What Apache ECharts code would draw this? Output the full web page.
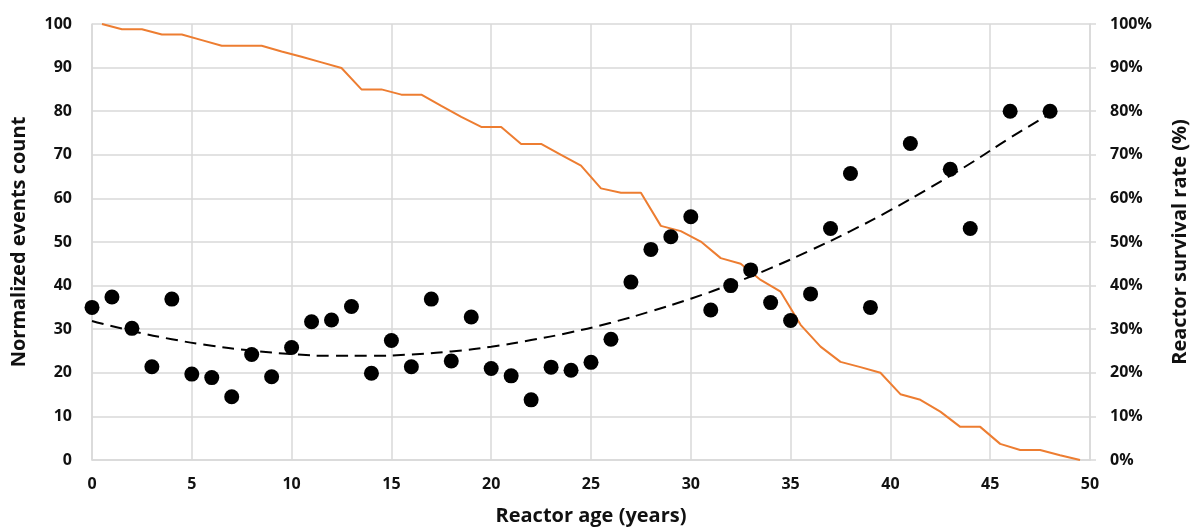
<!DOCTYPE html>
<html>
<head>
<meta charset="utf-8">
<script src="https://cdn.jsdelivr.net/npm/echarts@6/dist/echarts.min.js"></script>
<style>
  html, body { margin: 0; padding: 0; background: #fff; }
  #main { width: 1195px; height: 528px; }
</style>
</head>
<body>
<div id="main"></div>
<script>
// normalized events count per reactor age
var eventAges = [0, 1, 2, 3, 4, 5, 6, 7, 8, 9, 10, 11, 12, 13, 14, 15, 16, 17, 18, 19,
    20, 21, 22, 23, 24, 25, 26, 27, 28, 29, 30, 31, 32, 33, 34, 35, 36, 37, 38, 39,
    41, 43, 44, 46, 48];
var eventCounts = [35.0, 37.4, 30.2, 21.4, 36.9, 19.7, 18.9, 14.5, 24.2, 19.1, 25.8, 31.7, 32.1, 35.2, 19.9, 27.4, 21.4, 36.9, 22.7, 32.8,
    21.0, 19.3, 13.8, 21.3, 20.6, 22.4, 27.7, 40.8, 48.3, 51.2, 55.8, 34.4, 40.0, 43.6, 36.1, 32.0, 38.1, 53.1, 65.7, 35.0,
    72.6, 66.7, 53.1, 80.0, 80.0];

// dashed trend line, every 2 years
var trendAges = [0, 2, 4, 6, 8, 10, 12, 14, 16, 18, 20, 22, 24, 26, 28, 30, 32, 34, 36, 38, 40, 42, 44, 46, 48];
var trendValues = [31.9, 29.6, 27.7, 26.2, 25.1, 24.3, 23.9, 23.9, 24.2, 24.9, 26.0, 27.5, 29.3, 31.5, 34.1, 37.0, 40.3, 44.0, 48.1, 52.5, 57.3, 62.5, 68.0, 73.9, 79.4];

// reactor survival rate (%), one point at each half year
var survivalAges = [0.5, 1.5, 2.5, 3.5, 4.5, 5.5, 6.5, 7.5, 8.5, 9.5, 10.5, 11.5, 12.5, 13.5, 14.5, 15.5, 16.5, 17.5, 18.5, 19.5,
    20.5, 21.5, 22.5, 23.5, 24.5, 25.5, 26.5, 27.5, 28.5, 29.5, 30.5, 31.5, 32.5, 33.5, 34.5, 35.5, 36.5, 37.5, 38.5, 39.5,
    40.5, 41.5, 42.5, 43.5, 44.5, 45.5, 46.5, 47.5, 48.5, 49.5];
var survivalRate = [100, 98.8, 98.8, 97.6, 97.6, 96.3, 95.0, 95.0, 95.0, 93.7, 92.5, 91.2, 89.9, 85.0, 85.0, 83.8, 83.8, 81.2, 78.7, 76.4,
    76.4, 72.5, 72.5, 70.0, 67.5, 62.3, 61.3, 61.3, 53.7, 52.5, 50.1, 46.3, 45.0, 41.3, 38.6, 31.0, 26.0, 22.5, 21.3, 20.0,
    15.1, 13.8, 11.1, 7.6, 7.6, 3.7, 2.3, 2.3, 1.1, 0];

function pairs(xs, ys) {
    var out = [];
    for (var i = 0; i < xs.length; i++) out.push([xs[i], ys[i]]);
    return out;
}

var font = 'Open Sans';
var labelColor = '#111';
var gridColor = '#d9d9d9';
var tickText = { fontFamily: font, fontWeight: 'bold', fontSize: 16, color: labelColor };
var titleText = { fontFamily: font, fontWeight: 'bold', fontSize: 20, color: labelColor };

var myChart = echarts.init(document.getElementById('main'));
var option = {
    animation: false,
    grid: { left: 92, right: 105, top: 24, bottom: 68, containLabel: false, outerBoundsMode: 'none' },
    xAxis: {
        type: 'value',
        min: 0, max: 50, interval: 5,
        name: 'Reactor age (years)',
        nameLocation: 'middle',
        nameGap: 46,
        nameTextStyle: titleText,
        axisLine: { lineStyle: { color: gridColor, width: 1.5 } },
        axisTick: { show: false },
        axisLabel: Object.assign({ margin: 16 }, tickText),
        splitLine: { lineStyle: { color: gridColor, width: 1.5 } }
    },
    yAxis: [
        {
            type: 'value',
            min: 0, max: 100, interval: 10,
            name: 'Normalized events count',
            nameLocation: 'middle',
            nameGap: 63,
            nameTextStyle: titleText,
            axisLine: { show: true, lineStyle: { color: gridColor, width: 1.5 } },
            axisTick: { show: false },
            axisLabel: Object.assign({ margin: 20 }, tickText),
            splitLine: { lineStyle: { color: gridColor, width: 1.5 } }
        },
        {
            type: 'value',
            min: 0, max: 100, interval: 10,
            position: 'right',
            name: 'Reactor survival rate (%)',
            nameLocation: 'middle',
            nameGap: 80,
            nameRotate: 90,
            nameTextStyle: titleText,
            axisLine: { show: true, lineStyle: { color: gridColor, width: 1.5 } },
            axisTick: { show: true, length: 6, lineStyle: { color: gridColor, width: 1.5 } },
            axisLabel: Object.assign({ margin: 20, formatter: '{value}%' }, tickText),
            splitLine: { show: false }
        }
    ],
    series: [
        {
            name: 'Survival',
            type: 'line',
            yAxisIndex: 1,
            showSymbol: false,
            lineStyle: { color: '#ED7D31', width: 2 },
            data: pairs(survivalAges, survivalRate),
            z: 2
        },
        {
            name: 'Trend',
            type: 'line',
            smooth: true,
            showSymbol: false,
            lineStyle: { color: '#000', width: 2, type: [12, 7] },
            data: pairs(trendAges, trendValues),
            z: 3
        },
        {
            name: 'Events',
            type: 'scatter',
            symbolSize: 15,
            itemStyle: { color: '#000', opacity: 1 },
            data: pairs(eventAges, eventCounts),
            z: 4
        }
    ]
};
myChart.setOption(option);
</script>
</body>
</html>
